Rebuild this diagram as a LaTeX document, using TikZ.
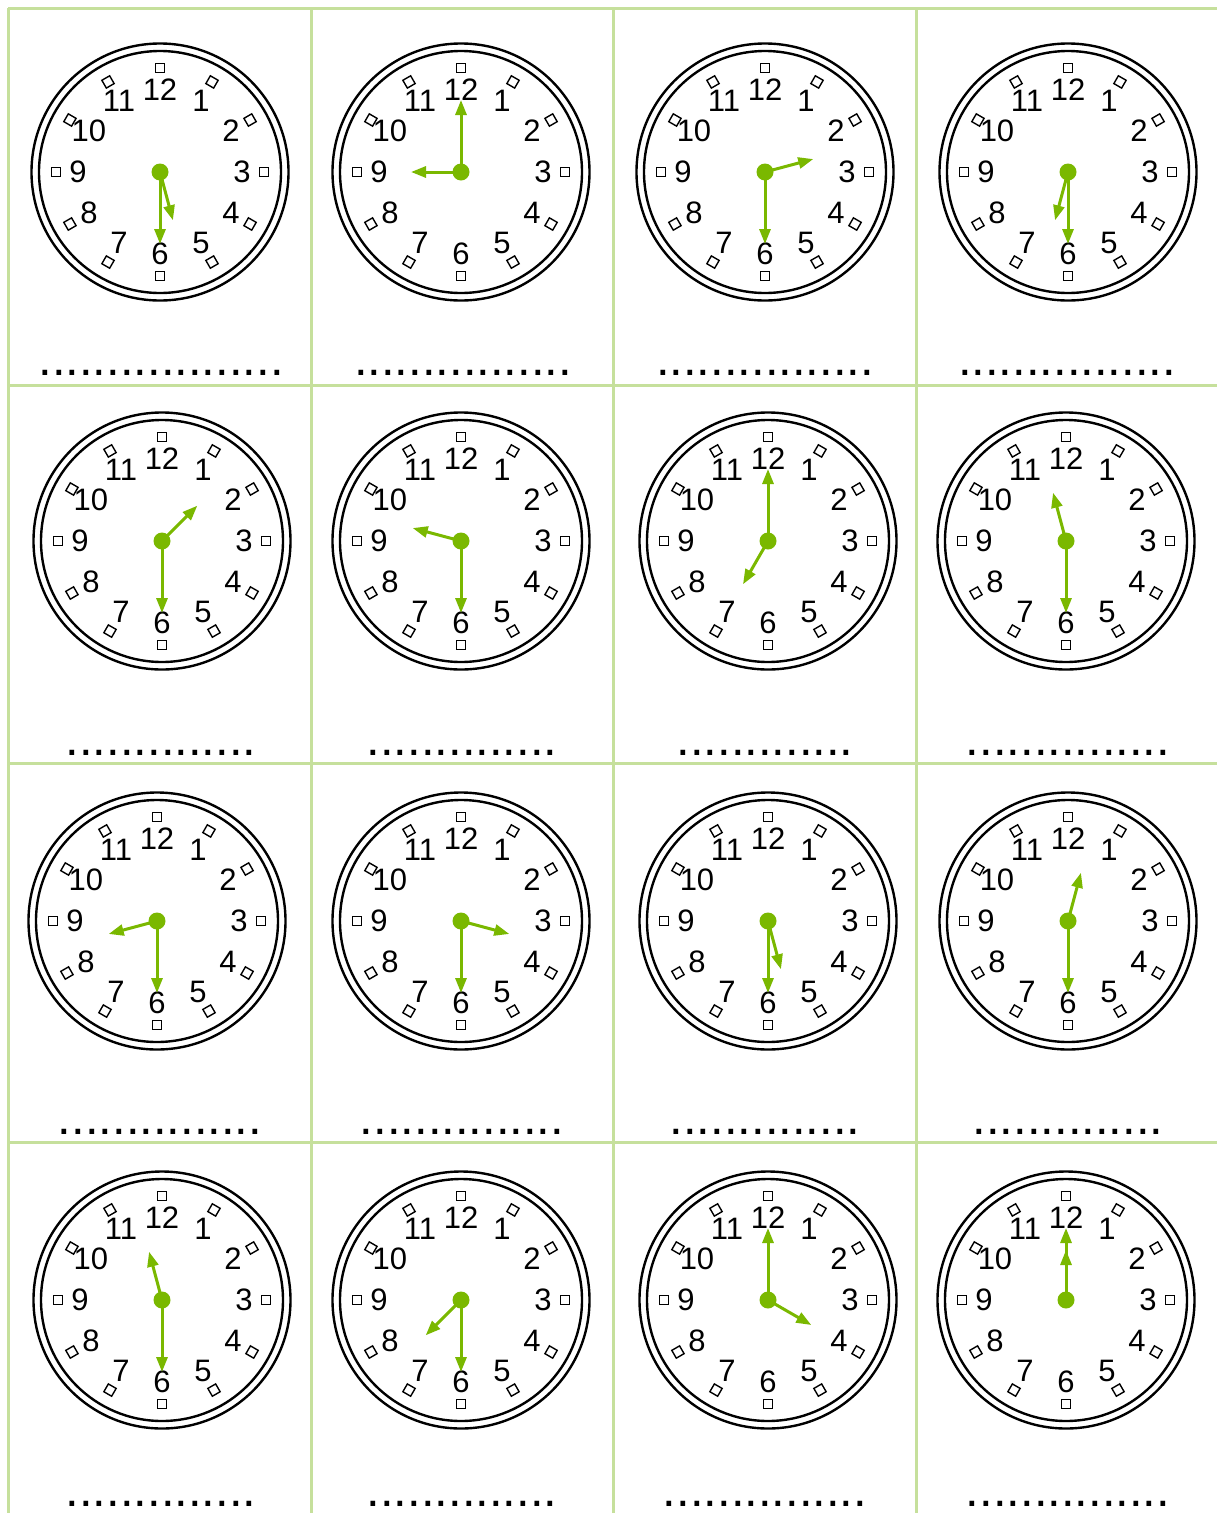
\documentclass[tikz,border=0pt]{standalone}
\usepackage{fontspec}
\setmainfont{Liberation Sans}
\usetikzlibrary{arrows.meta,calc}

\definecolor{gridgreen}{HTML}{C6E09C}
\definecolor{handgreen}{HTML}{7AB800}

\tikzset{
  gridline/.style={gridgreen, line width=3pt},
  rim/.style={line width=2.4pt},
  tickbox/.style={draw, line width=1.4pt, minimum size=9pt, inner sep=0pt},
  numlabel/.style={font=\fontsize{31}{31}\selectfont, inner sep=0pt},
  hand/.style={handgreen, line width=3pt, -{Triangle[length=15pt,width=11pt]}},
  blank/.style={font=\fontsize{49}{49}\selectfont, anchor=base, inner sep=0pt}
}

% clock face: name, centre, hour angle, minute angle (clockwise from 12)
\newcommand{\clockface}[4]{%
  \coordinate (#1) at (#2);
  \draw[rim] (#1) circle (128.5);
  \draw[rim] (#1) circle (121);
  \foreach \h in {1,...,12} {
    \node[tickbox, rotate={90-30*\h}] (#1-t\h) at ($(#1)+({30*\h-90}:104)$) {};
    \node[numlabel] (#1-n\h) at ($(#1)+({30*\h-90}:82)$) {\h};
  }
  \coordinate (#1-m) at ($(#1)+({#4-90}:72)$);
  \coordinate (#1-h) at ($(#1)+({#3-90}:50)$);
  \draw[hand] (#1) -- (#1-m);
  \draw[hand] (#1) -- (#1-h);
  \fill[handgreen] (#1) circle (8.5);
}

\begin{document}
\begin{tikzpicture}[x=1pt,y=-1pt]

\useasboundingbox (0,0) rectangle (1217,1513);

% Grid
\foreach \x in {8,311,613,916}
  \draw[gridline] (\x,8) -- (\x,1513);
\foreach \y in {8,385,763,1142}
  \draw[gridline] (8,\y) -- (1217,\y);

% Row 1
\clockface{c11}{160,172}{165}{180}
\clockface{c12}{461,172}{270}{0}
\clockface{c13}{765,172}{75}{180}
\clockface{c14}{1068,172}{195}{180}

% Row 2
\clockface{c21}{162,541}{45}{180}
\clockface{c22}{461,541}{285}{180}
\clockface{c23}{768,541}{210}{0}
\clockface{c24}{1066,541}{345}{180}

% Row 3
\clockface{c31}{157,921}{255}{180}
\clockface{c32}{461,921}{105}{180}
\clockface{c33}{768,921}{165}{180}
\clockface{c34}{1068,921}{15}{180}

% Row 4
\clockface{c41}{162,1300}{345}{180}
\clockface{c42}{461,1300}{225}{180}
\clockface{c43}{768,1300}{120}{0}
\clockface{c44}{1066,1300}{0}{0}

% Answer lines
\node[blank] (b11) at (161,375) {..................};
\node[blank] (b12) at (463,375) {................};
\node[blank] (b13) at (765,375) {................};
\node[blank] (b14) at (1067,375) {................};
\node[blank] (b21) at (161,755) {..............};
\node[blank] (b22) at (462,755) {..............};
\node[blank] (b23) at (765,755) {.............};
\node[blank] (b24) at (1068,755) {...............};
\node[blank] (b31) at (160,1134) {...............};
\node[blank] (b32) at (462,1134) {...............};
\node[blank] (b33) at (765,1134) {..............};
\node[blank] (b34) at (1068,1134) {..............};
\node[blank] (b41) at (161,1506) {..............};
\node[blank] (b42) at (462,1506) {..............};
\node[blank] (b43) at (765,1506) {...............};
\node[blank] (b44) at (1068,1506) {...............};

\end{tikzpicture}
\end{document}
